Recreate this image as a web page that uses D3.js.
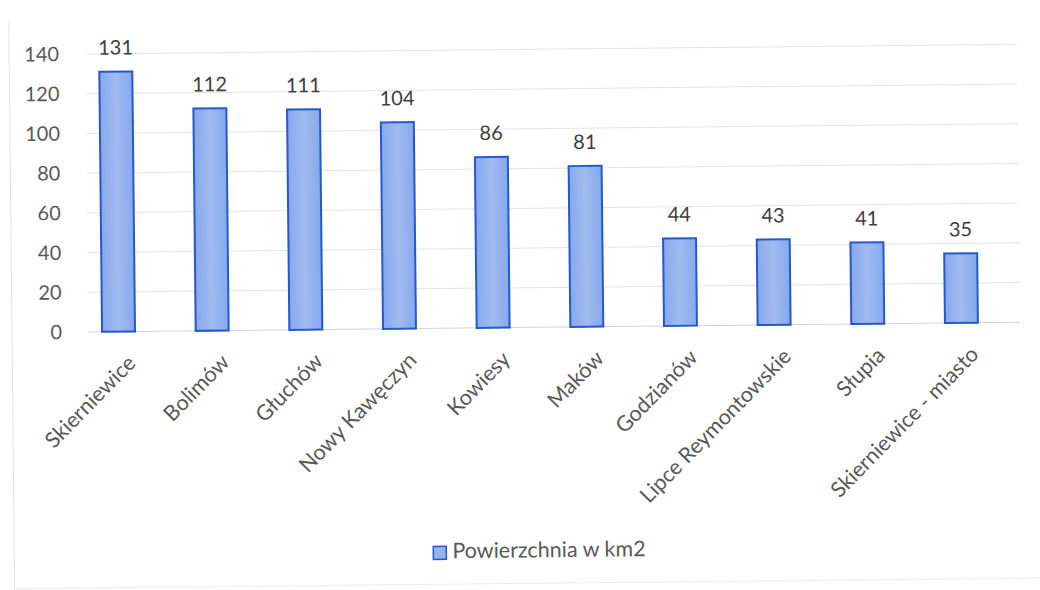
<!DOCTYPE html>
<html><head><meta charset="utf-8">
<script src="https://cdn.jsdelivr.net/npm/d3@7"></script>
<style>body{margin:0;background:#fff;}svg{display:block;font-family:Lato,"Open Sans",sans-serif;}</style>
</head><body>
<svg id="c" width="1040" height="590"></svg>
<script>
const categories = ["Skierniewice","Bolimów","Głuchów","Nowy Kawęczyn","Kowiesy","Maków","Godzianów","Lipce Reymontowskie","Słupia","Skierniewice - miasto"];
const values = [131,112,111,104,86,81,44,43,41,35];
const yTicks = [0,20,40,60,80,100,120,140];
const seriesName = "Powierzchnia w km2";

const svg = d3.select("#c");
const gridLeft = 88, gridRight = 1020, mTop = 54, mBottom = 332;
// whole chart slightly tilted like the scanned original
const root = svg.append("g").attr("transform",`rotate(-0.6, ${gridLeft}, ${mBottom})`);

root.append("line").attr("x1",12).attr("x2",12).attr("y1",22).attr("y2",600).attr("stroke","#e2e2e2");
root.append("line").attr("x1",12).attr("x2",1045).attr("y1",588).attr("y2",588).attr("stroke","#ededed");

const x = d3.scaleBand().domain(categories).range([71.7,1008.3]).paddingInner(0.648).paddingOuter(0.324);
const y = d3.scaleLinear().domain([0,140]).range([mBottom,mTop]);

root.append("g").selectAll("line").data(yTicks).join("line")
  .attr("x1",gridLeft).attr("x2",gridRight)
  .attr("y1",d=>y(d)).attr("y2",d=>y(d))
  .attr("stroke",d=>d===0?"#d4d4d4":"#e4e4e4").attr("stroke-width",1);

const yAxis = d3.axisLeft(y).tickValues(yTicks).tickSize(0).tickPadding(0);
const ga = root.append("g").attr("transform",`translate(62,0)`).call(yAxis);
ga.select(".domain").remove();
ga.selectAll("text").attr("font-size",20).attr("fill","#595959").attr("font-family","Lato,'Open Sans',sans-serif");

const defs = svg.append("defs");
const lg = defs.append("linearGradient").attr("id","bg").attr("x1",0).attr("x2",1).attr("y1",0).attr("y2",0);
lg.append("stop").attr("offset","0%").attr("stop-color","#87a8ec");
lg.append("stop").attr("offset","50%").attr("stop-color","#a0bbf1");
lg.append("stop").attr("offset","100%").attr("stop-color","#87a8ec");

root.append("g").selectAll("rect").data(values).join("rect")
  .attr("x",(d,i)=>x(categories[i]))
  .attr("width",x.bandwidth())
  .attr("y",d=>y(d))
  .attr("height",d=>y(0)-y(d))
  .attr("fill","url(#bg)").attr("stroke","#2459cc").attr("stroke-width",2);

root.append("g").selectAll("text").data(values).join("text")
  .attr("x",(d,i)=>x(categories[i])+x.bandwidth()/2)
  .attr("y",d=>y(d)-17)
  .attr("text-anchor","middle")
  .attr("font-size",20).attr("fill","#404040")
  .text(d=>d);

const xAxis = d3.axisBottom(x).tickSize(0).tickPadding(0);
const gx = root.append("g").attr("transform",`translate(0,${mBottom})`).call(xAxis);
gx.select(".domain").remove();
gx.selectAll("text")
  .attr("font-size",21.5).attr("fill","#595959").attr("font-family","Lato,'Open Sans',sans-serif")
  .attr("text-anchor","end").attr("y",0).attr("dy",0)
  .attr("transform","translate(18,33) rotate(-45)");

const leg = root.append("g");
leg.append("rect").attr("x",431).attr("y",550).attr("width",13).attr("height",13)
  .attr("fill","#94b3ee").attr("stroke","#2459cc").attr("stroke-width",1.5);
leg.append("text").attr("x",450).attr("y",562)
  .attr("font-size",21.5).attr("fill","#595959").text(seriesName);
</script>
</body></html>
